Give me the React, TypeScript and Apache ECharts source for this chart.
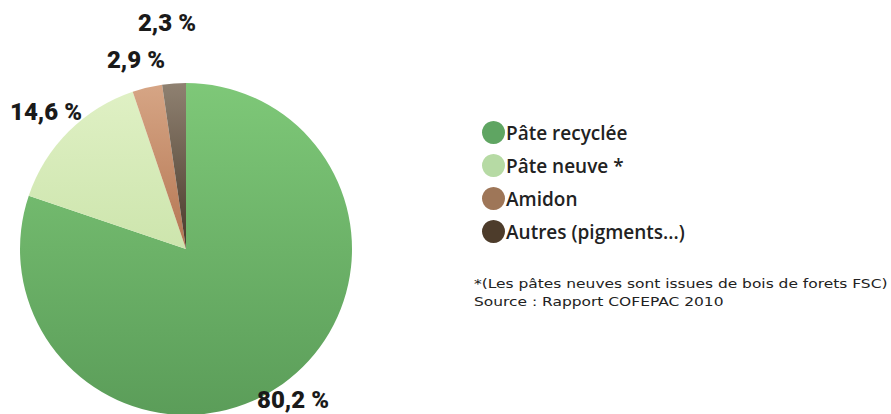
import React, { useEffect, useRef } from "react";
import * as echarts from "echarts";

const categories = ["Pâte recyclée", "Pâte neuve *", "Amidon", "Autres (pigments...)"];
const values = [80.2, 14.6, 2.9, 2.3];
const valueLabels = ["80,2 %", "14,6 %", "2,9 %", "2,3 %"];
const footnotes = ["*(Les pâtes neuves sont issues de bois de forets FSC)", "Source : Rapport COFEPAC 2010"];

const sliceColors = [
  ["#7ec878", "#5b9d59"],
  ["#dff0c4", "#cde5ad"],
  ["#d6a585", "#b47652"],
  ["#8f8171", "#4a3a2b"],
];
const legendColors = ["#5fa562", "#b6daa4", "#9e7658", "#4d3c2b"];
const labelPos = [
  [293, 400],
  [46, 112],
  [136, 60],
  [167, 23],
];

const LABEL_FONT = "Roboto, Noto Sans, sans-serif";
const LEGEND_FONT = "Open Sans, Noto Sans, sans-serif";

export default function App() {
  const ref = useRef<HTMLDivElement>(null);
  useEffect(() => {
    if (!ref.current) return;
    const chart = echarts.init(ref.current, null, { renderer: "svg" });
    chart.setOption({
      animation: false,
      backgroundColor: "#ffffff",
      legend: {
        orient: "vertical",
        left: 477,
        top: 116,
        icon: "circle",
        itemWidth: 23,
        itemHeight: 23,
        itemGap: 10,
        textStyle: { fontFamily: LEGEND_FONT, fontSize: 19, fontWeight: 600, color: "#222", padding: [0, 0, 0, -4] },
        data: categories.map((c, i) => ({ name: c, itemStyle: { color: legendColors[i] } })),
        selectedMode: false,
      },
      graphic: footnotes.map((t, i) => ({
        type: "text",
        x: 474,
        y: 277 + i * 18,
        scaleX: 1.19,
        style: { text: t, fontFamily: "DejaVu Sans, Verdana, sans-serif", fontSize: 13, fill: "#222" },
      })),
      series: [
        {
          type: "pie",
          center: [186, 249],
          radius: 166,
          startAngle: 90,
          clockwise: true,
          silent: true,
          labelLine: { show: false },
          label: {
            show: true,
            position: "outside",
            overflow: "none",
            fontFamily: LABEL_FONT,
            fontWeight: 900,
            fontSize: 24,
            color: "#1a1a1a",
            formatter: (p: any) => valueLabels[p.dataIndex],
          },
          labelLayout: (p: any) => ({
            x: labelPos[p.dataIndex][0],
            y: labelPos[p.dataIndex][1],
            align: "center",
            verticalAlign: "middle",
          }),
          data: categories.map((c, i) => ({
            name: c,
            value: values[i],
            itemStyle: {
              color: new echarts.graphic.LinearGradient(0, 0, 0, 1, [
                { offset: 0, color: sliceColors[i][0] },
                { offset: 1, color: sliceColors[i][1] },
              ]),
            },
          })),
        },
      ],
    });
    return () => chart.dispose();
  }, []);
  return <div ref={ref} style={{ width: 891, height: 414, position: "absolute", left: 0, top: 0 }} />;
}
